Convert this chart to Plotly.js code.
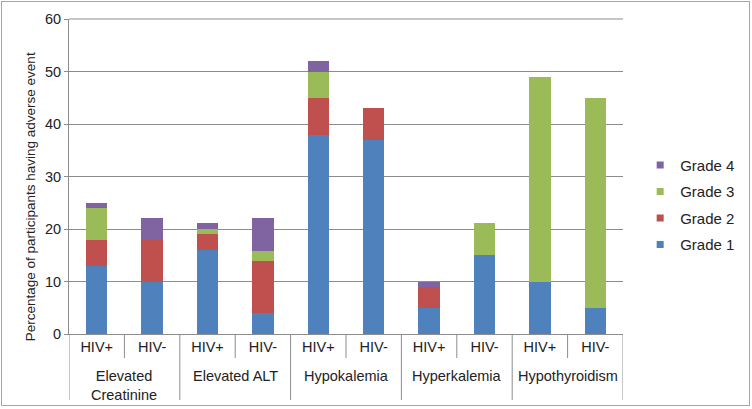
<!DOCTYPE html>
<html>
<head>
<meta charset="utf-8">
<script src="https://cdn.plot.ly/plotly-3.0.1.min.js"></script>
<style>
html,body{margin:0;padding:0;background:#fff;}
#wrap{position:relative;width:752px;height:409px;}
#chart{width:752px;height:409px;}
#frame{position:absolute;left:1px;top:1px;width:747px;height:403px;border:1.5px solid #a6a6a6;pointer-events:none;}
</style>
</head>
<body>
<div id="wrap"><div id="chart"></div><div id="frame"></div></div>
<script>
const groups = ["Elevated<br>Creatinine","Elevated ALT","Hypokalemia","Hyperkalemia","Hypothyroidism"];
const subgroups = ["HIV+","HIV-","HIV+","HIV-","HIV+","HIV-","HIV+","HIV-","HIV+","HIV-"];
const grade1 = [13, 10, 16, 4, 38, 37, 5, 15, 10, 5];
const grade2 = [5, 8, 3, 10, 7, 6, 3.9, 0, 0, 0];
const grade3 = [6, 0, 1, 1.9, 5, 0, 0, 6.1, 38.9, 40];
const grade4 = [1, 4.1, 1.1, 6.2, 2, 0, 1.1, 0, 0, 0];
const seriesNames = ["Grade 1","Grade 2","Grade 3","Grade 4"];
const colors = ["#4F81BD","#C0504D","#9BBB59","#8064A2"];
const values = [grade1, grade2, grade3, grade4];

const idx = subgroups.map((_,i)=>i);
const traces = values.map((v,i)=>({
  type:'bar',
  name: seriesNames[i],
  legendgroup: seriesNames[i],
  showlegend:false,
  x: idx,
  y: v,
  width: 0.385,
  marker:{color:colors[i]},
  hoverinfo:'y+name'
}));
// legend entries (small square keys), ranked so Grade 4 is on top
seriesNames.forEach((n,i)=>{
  traces.push({type:'scatter', mode:'markers', name:n, legendgroup:n,
    legendrank: seriesNames.length - i,
    x:[null], y:[null], marker:{symbol:'square', size:7, color:colors[i]}, hoverinfo:'skip'});
});

const ph = 315;
const pb = px => -px/ph;
const lineColor = '#8c8c8c';
const shapes = [];
const perGroup = subgroups.length / groups.length;
for (let b = 0; b <= subgroups.length; b++) {
  const xb = b - 0.5;
  const isGroupEdge = (b % perGroup) === 0;
  shapes.push({type:'line', xref:'x', yref:'paper', x0:xb, x1:xb, y0:0, y1: isGroupEdge ? pb(66) : pb(24),
               line:{color:lineColor, width:1}});
}
shapes.push({type:'line', xref:'paper', yref:'paper', x0:0, x1:1, y0:1, y1:1, line:{color:lineColor, width:1}});

const annotations = groups.map((g,k)=>({
  x: k*perGroup + (perGroup-1)/2, y: pb(32), xref:'x', yref:'paper',
  text: g, showarrow:false, xanchor:'center', yanchor:'top',
  font:{size:14.5, color:'#222'}
}));
annotations.push({
  x: -0.068, y: 0.435, xref:'paper', yref:'paper', textangle:-90,
  text:'Percentage of participants having adverse event', showarrow:false,
  xanchor:'center', yanchor:'middle', font:{size:13.5, color:'#222'}
});

const layout = {
  width:752, height:409,
  margin:{l:69, r:108, t:19, b:75},
  barmode:'stack',
  paper_bgcolor:'#fff', plot_bgcolor:'#fff',
  font:{family:'"Liberation Sans", Arial, sans-serif', size:14, color:'#222'},
  showlegend:true,
  legend:{traceorder:'grouped', x:1.031, y:0.41, xanchor:'left', yanchor:'middle',
          font:{size:15, color:'#222'}, itemwidth:30, tracegroupgap:4},
  xaxis:{range:[-0.5, subgroups.length-0.5], tickmode:'array', tickvals:idx, ticktext:subgroups,
         showline:true, linecolor:lineColor, linewidth:1, ticks:'', showgrid:false, zeroline:false,
         tickfont:{size:14.5, color:'#222'}},
  yaxis:{range:[0,60], dtick:10, showline:true, linecolor:lineColor, linewidth:1,
         showgrid:true, gridcolor:lineColor, gridwidth:1, zeroline:false,
         ticks:'outside', ticklen:4, tickcolor:lineColor,
         tickfont:{size:14.5, color:'#222'}},
  shapes: shapes,
  annotations: annotations
};
Plotly.newPlot('chart', traces, layout, {displayModeBar:false, staticPlot:true});
</script>
</body>
</html>
